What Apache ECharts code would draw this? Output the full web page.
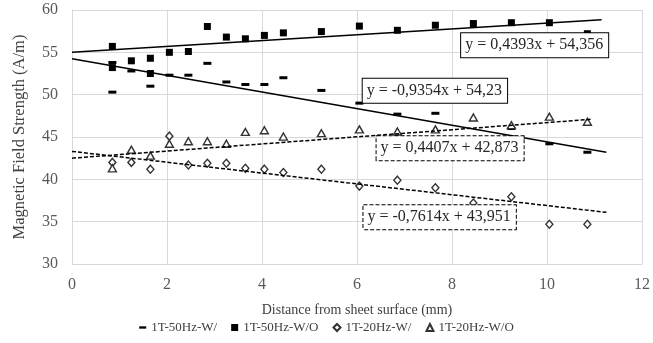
<!DOCTYPE html>
<html>
<head>
<meta charset="utf-8">
<script src="https://cdn.jsdelivr.net/npm/echarts@6/dist/echarts.min.js"></script>
<style>html,body{margin:0;padding:0;background:#fff}#c{width:653px;height:343px}</style>
</head>
<body>
<div id="c"></div>
<script>
// ---- data ----
var seriesNames = ['1T-50Hz-W/', '1T-50Hz-W/O', '1T-20Hz-W/', '1T-20Hz-W/O'];

var w50X = [0.85,0.85,1.25,1.65,2.05,2.45,2.85,3.25,3.65,4.05,4.45,5.25,6.05,6.85,7.65,9.25,10.05,10.85];
var w50Y = [53.8,50.3,52.8,51.0,52.3,52.3,53.7,51.5,51.2,51.2,52.0,50.5,49.0,47.7,47.8,46.0,44.2,43.2];

var wo50X = [0.85,0.85,1.25,1.65,1.65,2.05,2.45,2.85,3.25,3.65,4.05,4.45,5.25,6.05,6.85,7.65,8.45,9.25,10.05,10.85];
var wo50Y = [55.7,53.2,54.0,54.3,52.5,55.0,55.1,58.05,56.8,56.6,57.0,57.3,57.45,58.1,57.6,58.2,58.4,58.5,58.5,57.2];

var w20X = [0.85,1.25,1.65,2.05,2.45,2.85,3.25,3.65,4.05,4.45,5.25,6.05,6.85,7.65,8.45,9.25,10.05,10.85];
var w20Y = [42.0,42.0,41.2,45.1,41.7,41.9,41.9,41.3,41.2,40.8,41.2,39.2,39.9,39.0,37.2,37.95,34.7,34.7];

var wo20X = [0.85,1.25,1.65,2.05,2.45,2.85,3.25,3.65,4.05,4.45,5.25,6.05,6.85,7.65,8.45,9.25,10.05,10.85];
var wo20Y = [41.3,43.5,42.8,44.2,44.5,44.5,44.2,45.6,45.8,45.05,45.45,45.9,45.65,45.9,47.3,46.4,47.4,46.8];

// trendline end points (x, y) as seen in the picture
var trendWO50 = [[0, 55.0], [11.15, 58.85]];
var trendW50  = [[0, 54.23], [11.25, 43.2]];
var trendWO20 = [[0, 42.5], [10.95, 47.1]];
var trendW20  = [[0, 43.3], [11.25, 36.1]];

var eqTexts = ['y = 0,4393x + 54,356', 'y = -0,9354x + 54,23', 'y = 0,4407x + 42,873', 'y = -0,7614x + 43,951'];
var eqAnchors = [[9.74, 55.85], [7.64, 50.47], [7.96, 43.68], [7.74, 35.53]];

var xTicks = {min: 0, max: 12, interval: 2};
var yTicks = {min: 30, max: 60, interval: 5};

// ---- build ----
function pairs(xs, ys) { return xs.map(function (x, i) { return [x, ys[i]]; }); }
var FONT = 'Liberation Serif';
var gridColor = '#d9d9d9';
var hollow = {color: '#ffffff', borderColor: '#333333', borderWidth: 1.4, opacity: 1};

function eqLabel(i, dashed) {
  return {
    symbol: 'rect', symbolSize: 1, itemStyle: {color: 'rgba(0,0,0,0)'},
    z: 20,
    label: {
      show: true, position: 'inside', formatter: '{b}',
      fontFamily: FONT, fontSize: 16, color: '#262626',
      backgroundColor: '#ffffff', borderColor: '#000000', borderWidth: 1,
      borderType: dashed ? [4, 2] : 'solid', padding: [4, 5, 3, 4], lineHeight: 17
    },
    data: [{name: eqTexts[i], coord: eqAnchors[i]}]
  };
}

function trend(data, dashed, mpIdx) {
  return {
    type: 'line', data: data, symbol: 'none', silent: true, z: 4,
    lineStyle: {color: '#000000', width: 1.5, type: dashed ? [4, 2] : 'solid'},
    markPoint: eqLabel(mpIdx, dashed)
  };
}

var chart = echarts.init(document.getElementById('c'), null, {renderer: 'canvas'});
chart.setOption({
  animation: false,
  grid: {left: 72, right: 6, top: 10, bottom: 79},
  xAxis: {
    type: 'value', min: xTicks.min, max: xTicks.max, interval: xTicks.interval,
    name: 'Distance from sheet surface (mm)', nameLocation: 'middle', nameGap: 39,
    nameTextStyle: {fontFamily: FONT, fontSize: 14, color: '#404040'},
    axisLine: {show: true, lineStyle: {color: gridColor}},
    axisTick: {show: false},
    axisLabel: {fontFamily: FONT, fontSize: 16, color: '#595959', margin: 13},
    splitLine: {show: true, lineStyle: {color: gridColor, width: 1}}
  },
  yAxis: {
    type: 'value', min: yTicks.min, max: yTicks.max, interval: yTicks.interval,
    name: 'Magnetic Field Strength (A/m)', nameLocation: 'middle', nameGap: 44, nameRotate: 90,
    nameTextStyle: {fontFamily: FONT, fontSize: 16.5, color: '#404040'},
    axisLine: {show: true, lineStyle: {color: gridColor}},
    axisTick: {show: false},
    axisLabel: {fontFamily: FONT, fontSize: 16, color: '#595959', margin: 14},
    splitLine: {show: true, lineStyle: {color: gridColor, width: 1}}
  },
  legend: {
    bottom: 4, left: 'center', itemWidth: 7, itemHeight: 7, itemGap: 14, symbolKeepAspect: true,
    textStyle: {fontFamily: FONT, fontSize: 13, color: '#404040'},
    data: [
      {name: seriesNames[0], icon: 'path://M0,0L9,0L9,3L0,3Z'},
      {name: seriesNames[1], icon: 'rect'},
      {name: seriesNames[2], icon: 'diamond'},
      {name: seriesNames[3], icon: 'triangle'}
    ]
  },
  series: [
    {name: seriesNames[0], type: 'scatter', z: 3, data: pairs(w50X, w50Y),
     symbol: 'rect', symbolSize: [8, 3], itemStyle: {color: '#000000', opacity: 1}},
    {name: seriesNames[1], type: 'scatter', z: 3, data: pairs(wo50X, wo50Y),
     symbol: 'rect', symbolSize: 7, itemStyle: {color: '#000000', opacity: 1}},
    {name: seriesNames[2], type: 'scatter', z: 3, data: pairs(w20X, w20Y),
     symbol: 'diamond', symbolSize: [7, 8], itemStyle: hollow},
    {name: seriesNames[3], type: 'scatter', z: 3, data: pairs(wo20X, wo20Y),
     symbol: 'triangle', symbolSize: [8, 7], itemStyle: hollow},
    trend(trendWO50, false, 0),
    trend(trendW50, false, 1),
    trend(trendWO20, true, 2),
    trend(trendW20, true, 3)
  ]
});
</script>
</body>
</html>
